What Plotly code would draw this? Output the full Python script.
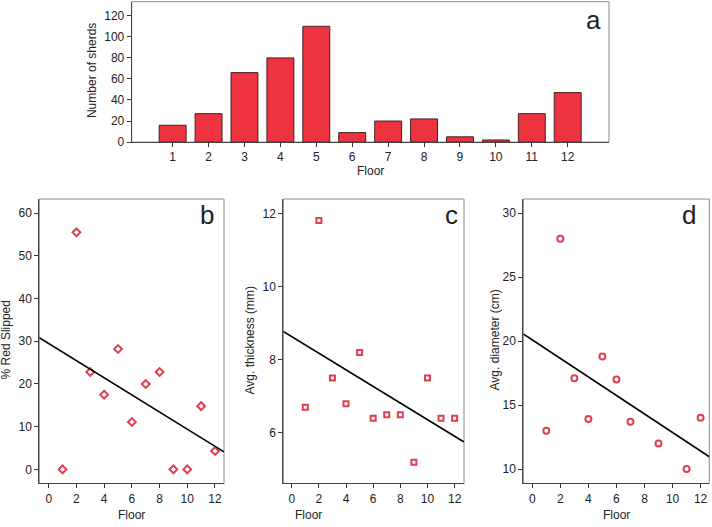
import numpy as np
import plotly.graph_objects as go

# ---------------- data ----------------
floors = [1, 2, 3, 4, 5, 6, 7, 8, 9, 10, 11, 12]
sherds = [16, 27, 66, 80, 110, 9, 20, 22, 5, 2, 27, 47]

red_slipped = [0, 55.5, 22.8, 17.5, 28.2, 11.1, 20, 22.8, 0, 0, 14.8, 4.3]
thickness = [6.7, 11.8, 7.5, 6.8, 8.2, 6.4, 6.5, 6.5, 5.2, 7.5, 6.4, 6.4]
diam_floors = [1, 2, 3, 4, 5, 6, 7, 9, 11, 12]
diameter = [13, 28, 17.1, 13.9, 18.8, 17, 13.7, 12, 10, 14]

W, H = 712, 527
FONT = "Liberation Sans, Arial, sans-serif"
RED = "#EE3340"
MRED = "#E0404E"
BOX = "#8a8a8a"
AXIS = "#444444"


def px_x(px):
    return px / W


def px_y(py):
    return 1 - py / H


fig = go.Figure()

# panel a: bar chart
fig.add_trace(go.Bar(x=floors, y=sherds, width=0.75,
                     marker=dict(color=RED, line=dict(color="#4a2020", width=1)),
                     xaxis="x", yaxis="y", showlegend=False))

scatter_panels = [
    ("x2", "y2", floors, red_slipped, "diamond-open", 6, (-0.68, 12.65)),
    ("x3", "y3", floors, thickness, "square-open", 5, (-0.62, 12.69)),
    ("x4", "y4", diam_floors, diameter, "circle-open", 6, (-0.64, 12.62)),
]

for xa, ya, xs, ys, sym, size, xr in scatter_panels:
    fig.add_trace(go.Scatter(x=xs, y=ys, mode="markers",
                             marker=dict(symbol=sym, size=size, color=MRED,
                                         line=dict(color=MRED, width=2)),
                             xaxis=xa, yaxis=ya, showlegend=False))
    slope, icpt = np.polyfit(np.array(xs, float), np.array(ys, float), 1)
    lx = np.array(xr)
    fig.add_trace(go.Scatter(x=lx, y=slope * lx + icpt, mode="lines",
                             line=dict(color="black", width=1.6),
                             xaxis=xa, yaxis=ya, showlegend=False))

axis_common = dict(showline=True, mirror=False, linecolor=AXIS, linewidth=1,
                   showgrid=False, zeroline=False, ticks="outside", ticklen=4,
                   tickcolor="#333", tickfont=dict(family=FONT, size=12, color="#222"))

domains = {
    "": ([131.7, 609], [144, 1.7]),
    "2": ([39.3, 224], [490, 201.7]),
    "3": ([283.3, 464], [490, 201.7]),
    "4": ([523.3, 709.3], [490, 201.7]),
}

fig.update_layout(
    width=W, height=H, margin=dict(l=0, r=0, t=0, b=0),
    paper_bgcolor="white", plot_bgcolor="white",
    font=dict(family=FONT, size=12, color="#222"),
    xaxis=dict(domain=[px_x(131.7), px_x(609)], range=[-0.14, 13.15],
               tickvals=floors, anchor="y", **axis_common),
    yaxis=dict(domain=[px_y(144), px_y(1.7)], range=[0, 133.4],
               tickvals=[0, 20, 40, 60, 80, 100, 120], anchor="x", **axis_common),
    xaxis2=dict(domain=[px_x(39.3), px_x(224)], range=[-0.68, 12.65],
                tickvals=[0, 2, 4, 6, 8, 10, 12], anchor="y2", **axis_common),
    yaxis2=dict(domain=[px_y(490), px_y(201.7)], range=[-3.3, 63.3],
                tickvals=[0, 10, 20, 30, 40, 50, 60], anchor="x2", **axis_common),
    xaxis3=dict(domain=[px_x(283.3), px_x(464)], range=[-0.62, 12.69],
                tickvals=[0, 2, 4, 6, 8, 10, 12], anchor="y3", **axis_common),
    yaxis3=dict(domain=[px_y(490), px_y(201.7)], range=[4.62, 12.39],
                tickvals=[6, 8, 10, 12], anchor="x3", **axis_common),
    xaxis4=dict(domain=[px_x(523.3), px_x(709.3)], range=[-0.64, 12.62],
                tickvals=[0, 2, 4, 6, 8, 10, 12], anchor="y4", **axis_common),
    yaxis4=dict(domain=[px_y(490), px_y(201.7)], range=[8.87, 31.1],
                tickvals=[10, 15, 20, 25, 30], anchor="x4", **axis_common),
)

# light grey frame (top/right) around each panel
shapes = []
for k, (xd, yd) in domains.items():
    shapes.append(dict(type="rect", xref="paper", yref="paper", layer="below",
                       x0=px_x(xd[0]), x1=px_x(xd[1]), y0=px_y(yd[0]), y1=px_y(yd[1]),
                       line=dict(color=BOX, width=1)))
fig.update_layout(shapes=shapes)

ann = []


def text(x, y, t, size=12, angle=0):
    ann.append(dict(x=px_x(x), y=px_y(y), xref="paper", yref="paper", text=t,
                    showarrow=False, textangle=angle, xanchor="center", yanchor="middle",
                    font=dict(family=FONT, size=size, color="#222")))


# axis titles
text(370, 173, "Floor")
text(92, 72, "Number of sherds", angle=-90)
text(131, 521.5, "Floor")
text(308, 521.5, "Floor")
text(616, 521.5, "Floor")
text(6, 345, "% Red Slipped", angle=-90)
text(250, 345, "Avg. thickness (mm)", angle=-90)
text(495, 345, "Avg. diameter (cm)", angle=-90)

# panel letters
text(593, 20, "a", size=26)
text(207, 218, "b", size=26)
text(451, 218, "c", size=26)
text(689, 218, "d", size=26)

fig.update_layout(annotations=ann)

fig.write_html("out.html", config={"displayModeBar": False},
               post_script="document.body.style.margin='0';document.body.style.overflow='hidden';")
